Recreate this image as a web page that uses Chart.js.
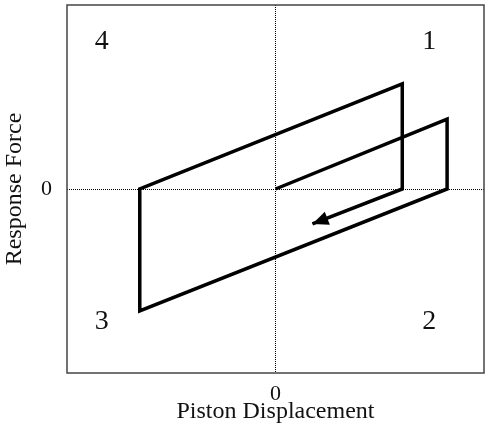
<!DOCTYPE html>
<html>
<head>
<meta charset="utf-8">
<script src="https://cdn.jsdelivr.net/npm/chart.js@4/dist/chart.umd.min.js"></script>
<style>
  html, body { margin: 0; padding: 0; background: #fff; }
  #wrap { width: 486px; height: 440px; }
</style>
</head>
<body>
<div id="wrap"><canvas id="chartLoop"></canvas></div>
<script>
// path of the piston response loop (displacement, force)
const displacement = [0, 0.823, 0.823, -0.651, -0.651, 0.608, 0.608, 0.177];
const force        = [0, 0.380, 0,     -0.663, 0,      0.571, 0,     -0.190];

// quadrant numbers
const quadrantNames = ['1', '2', '3', '4'];
const quadrantX     = [0.737, 0.737, -0.833, -0.833];
const quadrantY     = [0.80, -0.72, -0.72, 0.80];

const tickValues = [0];

const serif = "'Liberation Serif', 'Times New Roman', serif";

const boxPlugin = {
  id: 'box',
  afterDatasetsDraw(chart) {
    const {ctx, chartArea: a} = chart;
    ctx.save();
    ctx.strokeStyle = '#444';
    ctx.lineWidth = 1.5;
    ctx.strokeRect(a.left, a.top, a.right - a.left, a.bottom - a.top);
    ctx.restore();
  }
};

const arrowPlugin = {
  id: 'arrow',
  afterDatasetsDraw(chart) {
    const pts = chart.getDatasetMeta(0).data;
    const tip = pts[pts.length - 1], prev = pts[pts.length - 2];
    const ang = Math.atan2(tip.y - prev.y, tip.x - prev.x);
    const len = 16, half = 7;
    const ctx = chart.ctx;
    ctx.save();
    ctx.translate(tip.x, tip.y);
    ctx.rotate(ang);
    ctx.fillStyle = '#000';
    ctx.beginPath();
    ctx.moveTo(0, 0);
    ctx.lineTo(-len, -half);
    ctx.lineTo(-len, half);
    ctx.closePath();
    ctx.fill();
    ctx.restore();
  }
};

const quadPlugin = {
  id: 'quad',
  afterDatasetsDraw(chart) {
    const {ctx, scales: {x, y}} = chart;
    ctx.save();
    ctx.fillStyle = '#111';
    ctx.font = '28px ' + serif;
    ctx.textAlign = 'center';
    ctx.textBaseline = 'middle';
    quadrantNames.forEach((n, i) => {
      ctx.fillText(n, x.getPixelForValue(quadrantX[i]), y.getPixelForValue(quadrantY[i]));
    });
    ctx.restore();
  }
};

const pathData = displacement.map((d, i) => ({x: d, y: force[i]}));

const axisCommon = {
  type: 'linear',
  min: -1,
  max: 1,
  afterBuildTicks: s => { s.ticks = tickValues.map(v => ({value: v})); },
  grid: { color: '#000', lineWidth: 1, drawTicks: false },
  border: { display: false, dash: [1, 1] },
};

new Chart(document.getElementById('chartLoop'), {
  type: 'scatter',
  data: {
    datasets: [{
      data: pathData,
      showLine: true,
      borderColor: '#000',
      borderWidth: 3.5,
      borderJoinStyle: 'miter',
      pointRadius: 0,
      tension: 0,
    }]
  },
  options: {
    responsive: true,
    maintainAspectRatio: false,
    animation: false,
    layout: { padding: { top: 5, right: 2 } },
    plugins: { legend: { display: false }, tooltip: { enabled: false } },
    scales: {
      x: Object.assign({}, axisCommon, {
        afterFit: s => { s.height = 67; s.paddingLeft = 0; s.paddingRight = 0; },
        ticks: { padding: 8, color: '#111', font: { family: serif, size: 22 } },
        title: { display: true, text: 'Piston Displacement', color: '#111',
                 font: { family: serif, size: 24 }, padding: { top: 0, bottom: 14 } },
      }),
      y: Object.assign({}, axisCommon, {
        afterFit: s => { s.width = 67; s.paddingTop = 0; s.paddingBottom = 0; },
        ticks: { padding: 15, color: '#111', font: { family: serif, size: 22 } },
        title: { display: true, text: 'Response Force', color: '#111',
                 font: { family: serif, size: 24 }, padding: { top: 0, bottom: 0 } },
      }),
    }
  },
  plugins: [boxPlugin, arrowPlugin, quadPlugin]
});
</script>
</body>
</html>
